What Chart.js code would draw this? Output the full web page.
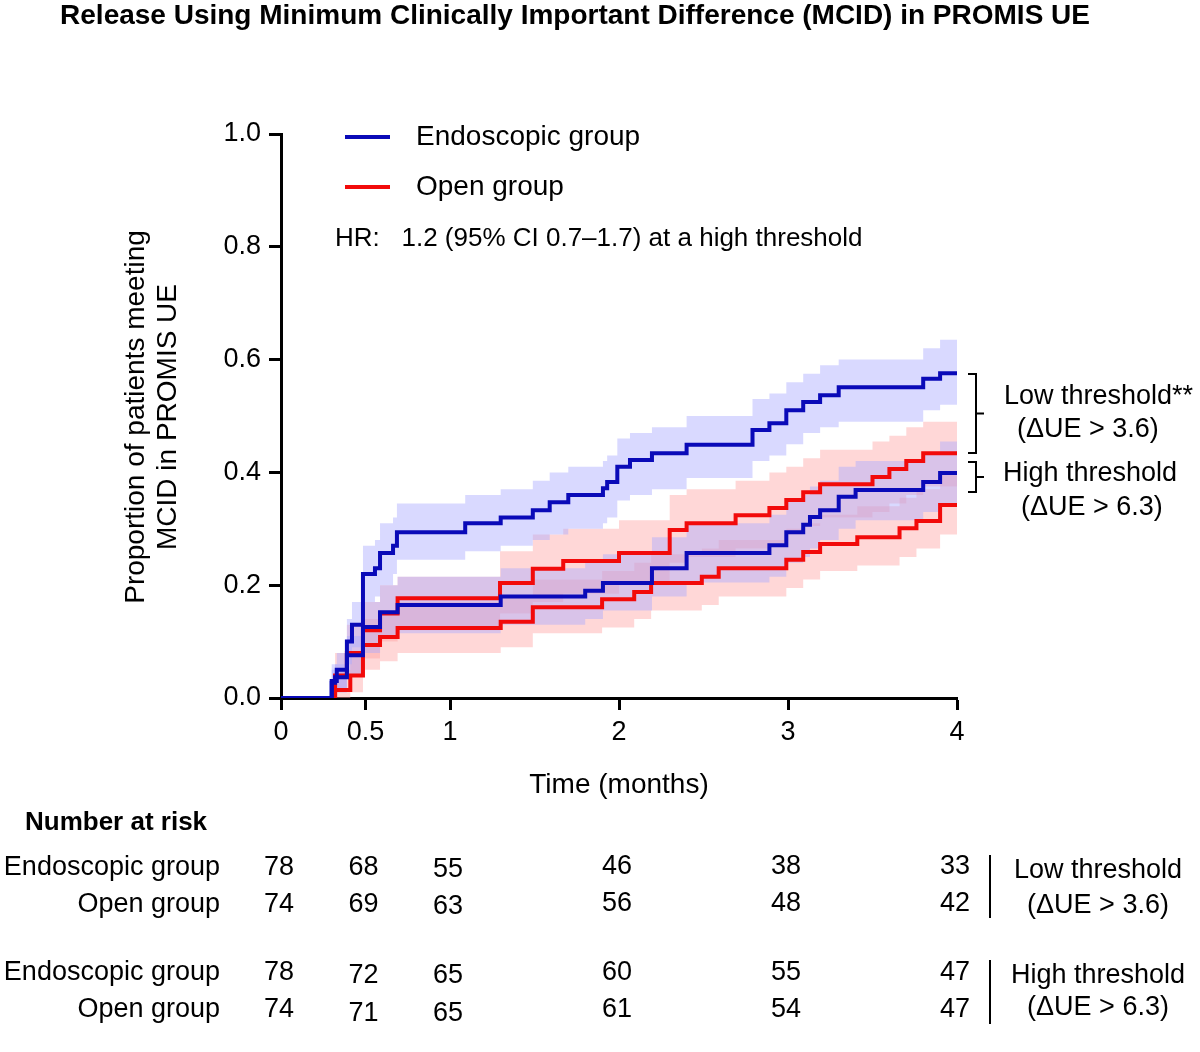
<!DOCTYPE html>
<html>
<head>
<meta charset="utf-8">
<script src="https://cdn.jsdelivr.net/npm/chart.js@4"></script>
<style>
  html, body { margin: 0; padding: 0; background: #fff; }
  #wrap { width: 1200px; height: 1052px; }
</style>
</head>
<body>
<div id="wrap"><canvas id="grafico" width="1200" height="1052"></canvas></div>
<script>
// Endoscopic group, low threshold
const tempoEndoBaixo = [0, 0.30, 0.33, 0.39, 0.42, 0.485, 0.556, 0.586, 0.663, 0.686, 1.09, 1.30, 1.49, 1.59, 1.70, 1.905, 1.93, 1.99, 2.065, 2.195, 2.40, 2.79, 2.89, 2.99, 3.09, 3.19, 3.30, 3.80, 3.90, 4.0];
const valorEndoBaixo = [0, 0.03, 0.05, 0.10, 0.13, 0.22, 0.23, 0.257, 0.27, 0.294, 0.31, 0.32, 0.333, 0.347, 0.36, 0.372, 0.383, 0.41, 0.422, 0.434, 0.449, 0.475, 0.487, 0.51, 0.525, 0.537, 0.551, 0.566, 0.576, 0.576];
const altoEndoBaixo  = [0, 0.06, 0.08, 0.14, 0.17, 0.27, 0.28, 0.31, 0.32, 0.345, 0.36, 0.37, 0.385, 0.40, 0.41, 0.42, 0.43, 0.46, 0.47, 0.48, 0.50, 0.53, 0.54, 0.56, 0.575, 0.59, 0.60, 0.62, 0.635, 0.635];
const baixoEndoBaixo = [0, 0, 0.01, 0.06, 0.09, 0.17, 0.18, 0.20, 0.22, 0.245, 0.26, 0.27, 0.28, 0.29, 0.30, 0.31, 0.32, 0.35, 0.36, 0.37, 0.39, 0.42, 0.43, 0.45, 0.47, 0.48, 0.49, 0.51, 0.52, 0.52];

// Endoscopic group, high threshold
const tempoEndoAlto = [0, 0.30, 0.32, 0.39, 0.485, 0.586, 0.69, 1.30, 1.80, 1.905, 2.195, 2.40, 2.89, 2.99, 3.09, 3.13, 3.19, 3.30, 3.40, 3.80, 3.90, 4.0];
const valorEndoAlto = [0, 0.027, 0.037, 0.076, 0.126, 0.152, 0.165, 0.18, 0.19, 0.204, 0.23, 0.257, 0.271, 0.294, 0.307, 0.321, 0.333, 0.357, 0.369, 0.383, 0.399, 0.399];
const altoEndoAlto  = [0, 0.05, 0.06, 0.11, 0.17, 0.20, 0.215, 0.23, 0.24, 0.255, 0.285, 0.31, 0.325, 0.35, 0.36, 0.375, 0.385, 0.41, 0.42, 0.435, 0.455, 0.455];
const baixoEndoAlto = [0, 0, 0.01, 0.04, 0.08, 0.105, 0.115, 0.13, 0.14, 0.155, 0.18, 0.205, 0.215, 0.24, 0.25, 0.265, 0.28, 0.30, 0.315, 0.33, 0.345, 0.345];

// Open group, low threshold
const tempoAbertoBaixo = [0, 0.32, 0.39, 0.485, 0.586, 0.69, 1.296, 1.49, 1.67, 2.0, 2.30, 2.40, 2.69, 2.89, 2.99, 3.09, 3.19, 3.50, 3.60, 3.70, 3.80, 4.0];
const valorAbertoBaixo = [0, 0.04, 0.08, 0.12, 0.15, 0.177, 0.204, 0.229, 0.243, 0.257, 0.298, 0.31, 0.324, 0.337, 0.351, 0.365, 0.379, 0.392, 0.406, 0.42, 0.434, 0.434];
const altoAbertoBaixo  = [0, 0.08, 0.13, 0.17, 0.20, 0.215, 0.26, 0.29, 0.30, 0.315, 0.36, 0.37, 0.385, 0.40, 0.41, 0.425, 0.44, 0.455, 0.465, 0.48, 0.49, 0.49];
const baixoAbertoBaixo = [0, 0.01, 0.04, 0.07, 0.10, 0.12, 0.15, 0.17, 0.185, 0.20, 0.24, 0.25, 0.265, 0.275, 0.29, 0.305, 0.32, 0.33, 0.345, 0.36, 0.375, 0.375];

// Open group, high threshold
const tempoAbertoAlto = [0, 0.32, 0.41, 0.485, 0.586, 0.69, 1.30, 1.49, 1.90, 2.09, 2.19, 2.49, 2.59, 2.99, 3.09, 3.19, 3.41, 3.66, 3.76, 3.90, 4.0];
const valorAbertoAlto = [0, 0.014, 0.04, 0.094, 0.108, 0.124, 0.135, 0.161, 0.175, 0.188, 0.204, 0.215, 0.23, 0.245, 0.259, 0.273, 0.285, 0.301, 0.314, 0.342, 0.342];
const altoAbertoAlto  = [0, 0.05, 0.08, 0.14, 0.155, 0.17, 0.18, 0.21, 0.225, 0.24, 0.255, 0.265, 0.28, 0.30, 0.31, 0.325, 0.34, 0.355, 0.37, 0.40, 0.40];
const baixoAbertoAlto = [0, 0, 0.01, 0.05, 0.065, 0.08, 0.09, 0.115, 0.125, 0.14, 0.155, 0.165, 0.18, 0.195, 0.21, 0.225, 0.235, 0.25, 0.265, 0.29, 0.29];

const ticksX = [0, 0.5, 1, 2, 3, 4];
const ticksY = [0, 0.2, 0.4, 0.6, 0.8, 1.0];

// Number at risk
const rotulosRisco = ['Endoscopic group', 'Open group', 'Endoscopic group', 'Open group'];
const riscoEndoBaixo = [78, 68, 55, 46, 38, 33];
const riscoAbertoBaixo = [74, 69, 63, 56, 48, 42];
const riscoEndoAlto = [78, 72, 65, 60, 55, 47];
const riscoAbertoAlto = [74, 71, 65, 61, 54, 47];

const AZUL = '#0a0ab8';
const VERMELHO = '#f20a0a';
const FONTE = '"Liberation Sans", Arial, sans-serif';

function pontos(tempos, valores) {
    return tempos.map((t, i) => ({ x: t, y: valores[i] }));
}

function banda(tempos, baixo, alto, cor) {
    return [
        { data: pontos(tempos, baixo), order: 2, stepped: true, borderWidth: 0, pointRadius: 0, fill: false, borderColor: 'transparent' },
        { data: pontos(tempos, alto), order: 2, stepped: true, borderWidth: 0, pointRadius: 0, fill: '-1', borderColor: 'transparent', backgroundColor: cor }
    ];
}

function curva(tempos, valores, cor) {
    return { data: pontos(tempos, valores), order: 1, stepped: true, borderWidth: 4, pointRadius: 0, fill: false, borderColor: cor };
}

const pluginTextos = {
    id: 'textos',
    afterDraw(chart) {
        const ctx = chart.ctx;
        const escalaX = chart.scales.x;
        ctx.save();
        ctx.fillStyle = '#000';
        ctx.textBaseline = 'middle';

        ctx.font = 'bold 28px ' + FONTE;
        ctx.textAlign = 'right';
        ctx.fillText('Release Using Minimum Clinically Important Difference (MCID) in PROMIS UE', 1090, 16);

        // legenda
        ctx.lineWidth = 4;
        ctx.strokeStyle = AZUL;
        ctx.beginPath(); ctx.moveTo(345, 137); ctx.lineTo(390, 137); ctx.stroke();
        ctx.strokeStyle = VERMELHO;
        ctx.beginPath(); ctx.moveTo(345, 187); ctx.lineTo(390, 187); ctx.stroke();
        ctx.font = '28px ' + FONTE;
        ctx.textAlign = 'left';
        ctx.fillText('Endoscopic group', 416, 137);
        ctx.fillText('Open group', 416, 187);
        ctx.font = '26px ' + FONTE;
        ctx.fillText('HR:   1.2 (95% CI 0.7\u20131.7) at a high threshold', 335, 239);

        // titulo do eixo y
        ctx.save();
        ctx.translate(136, 417);
        ctx.rotate(-Math.PI / 2);
        ctx.textAlign = 'center';
        ctx.font = '28px ' + FONTE;
        ctx.fillText('Proportion of patients meeting', 0, 0);
        ctx.fillText('MCID in PROMIS UE', 0, 32);
        ctx.restore();

        ctx.textAlign = 'center';
        ctx.font = '28px ' + FONTE;
        ctx.fillText('Time (months)', 619, 785);

        // chaves a direita
        ctx.strokeStyle = '#000';
        ctx.lineWidth = 2;
        function chave(y1, y2) {
            const meio = (y1 + y2) / 2;
            ctx.beginPath();
            ctx.moveTo(968, y1); ctx.lineTo(976, y1); ctx.lineTo(976, y2); ctx.lineTo(968, y2);
            ctx.moveTo(976, meio); ctx.lineTo(984, meio);
            ctx.stroke();
        }
        chave(374, 453);
        chave(462, 492);
        ctx.font = '27px ' + FONTE;
        ctx.textAlign = 'left';
        ctx.fillText('Low threshold**', 1004, 397);
        ctx.fillText('(\u0394UE > 3.6)', 1017, 430);
        ctx.fillText('High threshold', 1003, 474);
        ctx.fillText('(\u0394UE > 6.3)', 1021, 508);

        // tabela de risco
        ctx.font = 'bold 26px ' + FONTE;
        ctx.fillText('Number at risk', 25, 823);
        const linhas = [riscoEndoBaixo, riscoAbertoBaixo, riscoEndoAlto, riscoAbertoAlto];
        const ys = [[868, 868, 870, 867, 867, 867], [905, 905, 907, 904, 904, 904], [973, 976, 976, 973, 973, 973], [1010, 1014, 1014, 1010, 1010, 1010]];
        ctx.font = '27px ' + FONTE;
        linhas.forEach((linha, i) => {
            ctx.textAlign = 'right';
            ctx.fillText(rotulosRisco[i], 220, ys[i][0]);
            ctx.textAlign = 'center';
            linha.forEach((n, j) => {
                ctx.fillText(String(n), escalaX.getPixelForValue(ticksX[j]) - 2, ys[i][j]);
            });
        });
        ctx.beginPath();
        ctx.moveTo(990, 855); ctx.lineTo(990, 918);
        ctx.moveTo(990, 960); ctx.lineTo(990, 1024);
        ctx.stroke();
        ctx.fillText('Low threshold', 1098, 871);
        ctx.fillText('(\u0394UE > 3.6)', 1098, 906);
        ctx.fillText('High threshold', 1098, 976);
        ctx.fillText('(\u0394UE > 6.3)', 1098, 1008);
        ctx.restore();
    }
};

new Chart(document.getElementById('grafico').getContext('2d'), {
    type: 'line',
    data: {
        datasets: [
            ...banda(tempoEndoBaixo, baixoEndoBaixo, altoEndoBaixo, 'rgba(170,170,255,0.45)'),
            ...banda(tempoEndoAlto, baixoEndoAlto, altoEndoAlto, 'rgba(170,170,255,0.45)'),
            ...banda(tempoAbertoBaixo, baixoAbertoBaixo, altoAbertoBaixo, 'rgba(255,160,160,0.42)'),
            ...banda(tempoAbertoAlto, baixoAbertoAlto, altoAbertoAlto, 'rgba(255,160,160,0.42)'),
            curva(tempoEndoBaixo, valorEndoBaixo, AZUL),
            curva(tempoEndoAlto, valorEndoAlto, AZUL),
            curva(tempoAbertoBaixo, valorAbertoBaixo, VERMELHO),
            curva(tempoAbertoAlto, valorAbertoAlto, VERMELHO)
        ]
    },
    options: {
        responsive: false,
        animation: false,
        layout: { padding: { left: 0, right: 243, top: 134, bottom: 0 } },
        plugins: { legend: { display: false }, tooltip: { enabled: false } },
        scales: {
            x: {
                type: 'linear',
                min: 0,
                max: 4,
                afterFit: (s) => { s.height = 354; },
                afterBuildTicks: (s) => { s.ticks = ticksX.map((v) => ({ value: v })); },
                grid: { drawOnChartArea: false, drawTicks: true, tickLength: 12, tickWidth: 3, color: '#000' },
                border: { width: 3, color: '#000' },
                ticks: { color: '#000', font: { size: 27, family: FONTE }, padding: 6, maxRotation: 0, callback: (v) => String(v) }
            },
            y: {
                type: 'linear',
                min: 0,
                max: 1,
                afterFit: (s) => { s.width = 281; },
                afterBuildTicks: (s) => { s.ticks = ticksY.map((v) => ({ value: v })); },
                grid: { drawOnChartArea: false, drawTicks: true, tickLength: 12, tickWidth: 3, color: '#000' },
                border: { width: 3, color: '#000' },
                ticks: { color: '#000', font: { size: 27, family: FONTE }, padding: 8, callback: (v) => v.toFixed(1) }
            }
        }
    },
    plugins: [pluginTextos]
});
</script>
</body>
</html>
